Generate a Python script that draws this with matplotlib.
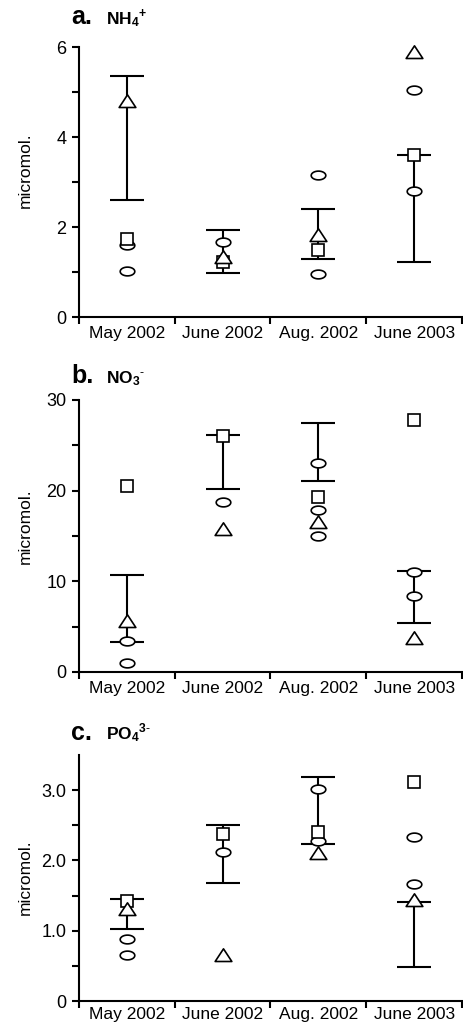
import numpy as np
import matplotlib
matplotlib.use("Agg")
import matplotlib.pyplot as plt
from matplotlib.path import Path

plt.rcParams["font.family"] = ["Liberation Sans", "DejaVu Sans"]
plt.rcParams["mathtext.fontset"] = "custom"
plt.rcParams["mathtext.rm"] = "Liberation Sans"
plt.rcParams["mathtext.bf"] = "Liberation Sans:bold"

# ── Data ──────────────────────────────────────────────────────────────────────
months = ["May 2002", "June 2002", "Aug. 2002", "June 2003"]

# a. NH4+
nh4_circles   = [[1.59, 1.02], [1.67], [3.16, 0.96], [5.04, 2.81]]
nh4_triangles = [[4.79], [1.33], [1.83], [5.89]]
nh4_squares   = [[1.74], [1.22], [1.50], [3.59]]
nh4_bar_lo    = [2.59, 0.98, 1.29, 1.22]
nh4_bar_hi    = [5.35, 1.93, 2.41, 3.61]

# b. NO3-
no3_circles   = [[3.39, 1.03], [18.8], [23.0, 17.9, 15.05], [11.0, 8.35]]
no3_triangles = [[5.6], [15.8], [16.5], [3.75]]
no3_squares   = [[20.5], [26.0], [19.3], [27.8]]
no3_bar_lo    = [3.31, 20.2, 21.1, 5.45]
no3_bar_hi    = [10.75, 26.1, 27.5, 11.15]

# c. PO4 3-
po4_circles   = [[0.885, 0.65], [2.12], [3.01, 2.28], [2.34, 1.67]]
po4_triangles = [[1.31], [0.66], [2.11], [1.44]]
po4_squares   = [[1.42], [2.37], [2.41], [3.11]]
po4_bar_lo    = [1.02, 1.68, 2.23, 0.48]
po4_bar_hi    = [1.45, 2.50, 3.19, 1.41]

# ── Marker shapes (flattened ellipse, squat triangle) ─────────────────────────
t = np.linspace(0, 2 * np.pi, 61)
ellipse = Path(np.column_stack([np.cos(t), 0.6 * np.sin(t)]), closed=True)
triangle = Path([(-1, -0.72), (1, -0.72), (0, 0.8), (-1, -0.72)], closed=True)

W, H = 464, 1025
fig = plt.figure(figsize=(W / 100, H / 100), dpi=100)


def px_axes(left, right, top, bottom):
    return [left / W, 1 - bottom / H, (right - left) / W, (bottom - top) / H]


def panel(rect, circles, triangles, squares, lo, hi, ylim, major, minor,
          labels, ylab_y, xpad=6.5):
    ax = fig.add_axes(rect)
    xs = np.arange(len(months)) + 0.5
    lo = np.array(lo)
    hi = np.array(hi)
    mid = (lo + hi) / 2
    ax.errorbar(xs, mid, yerr=(hi - lo) / 2, fmt="none", ecolor="black",
                elinewidth=1.5, capsize=12, capthick=1.5, zorder=2,
                clip_on=False)
    for x, vals in zip(xs, circles):
        ax.plot([x] * len(vals), vals, linestyle="none", marker=ellipse,
                markersize=10.5, mfc="white", mec="black", mew=1.2,
                zorder=3, clip_on=False)
    for x, vals in zip(xs, squares):
        ax.plot([x] * len(vals), vals, linestyle="none", marker="s",
                markersize=8, mfc="white", mec="black", mew=1.2,
                zorder=4, clip_on=False)
    for x, vals in zip(xs, triangles):
        ax.plot([x] * len(vals), vals, linestyle="none", marker=triangle,
                markersize=12, mfc="white", mec="black", mew=1.2,
                zorder=5, clip_on=False)

    ax.set_xlim(0, len(months))
    ax.set_ylim(*ylim)
    ax.spines["top"].set_visible(False)
    ax.spines["right"].set_visible(False)
    for s in ("left", "bottom"):
        ax.spines[s].set_linewidth(1.5)

    ax.set_xticks(np.arange(len(months) + 1))
    ax.set_xticklabels([])
    ax.set_xticks(xs, minor=True)
    ax.set_xticklabels(months, minor=True, fontsize=12.5)
    ax.tick_params(axis="x", which="major", length=5, width=1.5)
    ax.tick_params(axis="x", which="minor", length=0, pad=xpad)

    ax.set_yticks(major)
    ax.set_yticklabels(labels, fontsize=13)
    ax.set_yticks(minor, minor=True)
    ax.tick_params(axis="y", which="both", length=5, width=1.5, pad=4)

    ax.set_ylabel("micromol.", fontsize=12.5)
    ax.yaxis.set_label_coords(-0.12, ylab_y)
    return ax


panel(px_axes(79, 462, 47, 317), nh4_circles, nh4_triangles, nh4_squares,
      nh4_bar_lo, nh4_bar_hi, (0, 6), [0, 2, 4, 6], [1, 3, 5],
      ["0", "2", "4", "6"], 0.545)
panel(px_axes(79, 462, 400, 672), no3_circles, no3_triangles, no3_squares,
      no3_bar_lo, no3_bar_hi, (0, 30), [0, 10, 20, 30], [5, 15, 25],
      ["0", "10", "20", "30"], 0.535)
panel(px_axes(79, 462, 755, 1001), po4_circles, po4_triangles, po4_squares,
      po4_bar_lo, po4_bar_hi, (0, 3.5), [0, 1, 2, 3], [0.5, 1.5, 2.5],
      ["0", "1.0", "2.0", "3.0"], 0.505, xpad=4.5)

# ── Panel titles ──────────────────────────────────────────────────────────────
titles = [("a.", r"$\mathbf{NH_4}^{\mathbf{+}}$", 24),
          ("b.", r"$\mathbf{NO_3}^{\mathbf{\text{-}}}$", 383),
          ("c.", r"$\mathbf{PO_4}^{\mathbf{3\text{-}}}$", 740)]
for letter, ion, base in titles:
    fig.text(71 / W, 1 - base / H, letter, fontsize=18, fontweight="bold",
             va="baseline", ha="left")
    fig.text(106 / W, 1 - base / H, ion, fontsize=12.5, va="baseline",
             ha="left")

fig.savefig("out.png", dpi=100, facecolor="white")
